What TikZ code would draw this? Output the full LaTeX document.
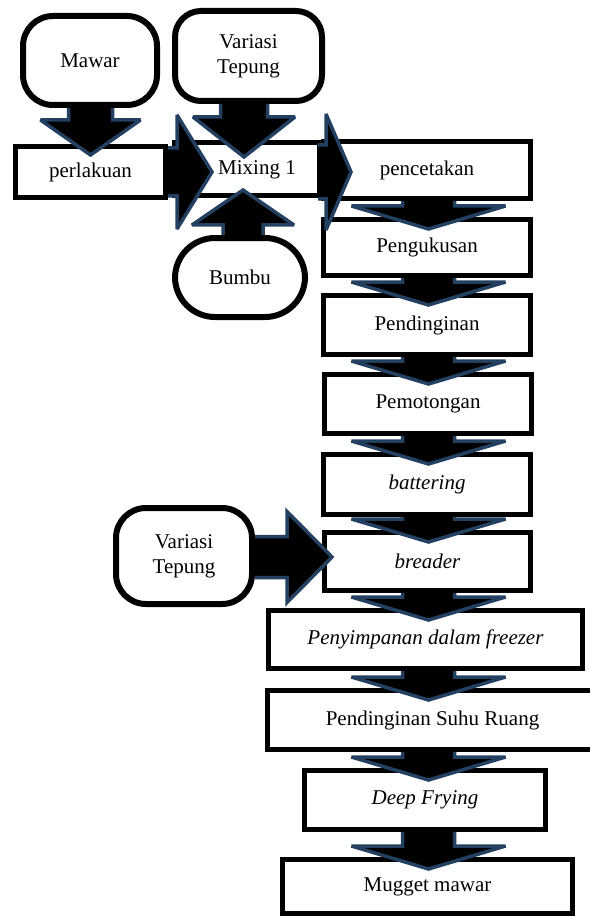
\documentclass[tikz,border=0pt]{standalone}
\usepackage{fontspec}
\setmainfont{Liberation Serif}
\usetikzlibrary{calc}
\definecolor{arrblue}{RGB}{36,64,97}
\tikzset{
  box/.style={draw=black, line width=5pt, inner sep=0pt, outer sep=2.5pt, fill=white, align=center},
  rbox/.style={draw=black, line width=6pt, inner sep=0pt, outer sep=3pt, fill=white, align=center, rounded corners=#1},
  rbox/.default=28pt,
  blkfill/.style={fill=black},
  blkline/.style={draw=arrblue, line width=3.5pt, line join=miter, miter limit=3},
}
% vertical block arrow: #1 tail, #2 tip, #3 shaft half width, #4 head half width, #5 signed head length
\newcommand\blkV[5]{%
  \fill[blkfill] let \p1=#1, \p2=#2 in (\x2-#3,\y1) -- (\x2-#3,\y2+#5) -- (\x2-#4,\y2+#5) -- (\x2,\y2) -- (\x2+#4,\y2+#5) -- (\x2+#3,\y2+#5) -- (\x2+#3,\y1) -- cycle;
  \draw[blkline] let \p1=#1, \p2=#2 in (\x2-#3,\y1) -- (\x2-#3,\y2+#5) -- (\x2-#4,\y2+#5) -- (\x2,\y2) -- (\x2+#4,\y2+#5) -- (\x2+#3,\y2+#5) -- (\x2+#3,\y1);
}
% horizontal (rightward) block arrow
\newcommand\blkH[5]{%
  \fill[blkfill] let \p1=#1, \p2=#2 in (\x1,\y2+#3) -- (\x2-#5,\y2+#3) -- (\x2-#5,\y2+#4) -- (\x2,\y2) -- (\x2-#5,\y2-#4) -- (\x2-#5,\y2-#3) -- (\x1,\y2-#3) -- cycle;
  \draw[blkline] let \p1=#1, \p2=#2 in (\x1,\y2+#3) -- (\x2-#5,\y2+#3) -- (\x2-#5,\y2+#4) -- (\x2,\y2) -- (\x2-#5,\y2-#4) -- (\x2-#5,\y2-#3) -- (\x1,\y2-#3);
}
\newcommand\colarrow[2]{\blkV{(#1.south)}{($(#2.north -| bread.north)+(1,12)$)}{26pt}{77pt}{23pt}}
\begin{document}
\begin{tikzpicture}[x=1pt, y=-1pt, font=\fontsize{21}{25}\selectfont]
\useasboundingbox (0,0) rectangle (589,917);
% left / top inputs
\node[rbox=30pt, minimum width=134pt, minimum height=89pt] (mawar) at (90,60.5) {Mawar};
\node[rbox=26pt, minimum width=147pt, minimum height=90pt] (vart) at (248.5,56) {Variasi\\Tepung};
\node[box, minimum width=150pt, minimum height=51pt] (perl) at (90.5,172) {perlakuan};
\node[box, minimum width=145pt, minimum height=53pt] (mix) at (247,169) {};
\node (mixlbl) at (257,170) {Mixing 1};
\node[rbox=40pt, minimum width=130pt, minimum height=79pt] (bumbu) at (240,277.5) {Bumbu};
\node[rbox=30pt, minimum width=136pt, minimum height=96pt] (varl) at (184,556) {Variasi\\Tepung};
% main column
\node[box, minimum width=207pt, minimum height=57pt] (penc) at (427,170) {pencetakan};
\node[box, minimum width=207pt, minimum height=56pt] (peng) at (427,247.5) {Pengukusan};
\node[box, minimum width=207pt, minimum height=59pt] (pend) at (427,325) {Pendinginan};
\node[box, minimum width=207pt, minimum height=59pt] (pemo) at (428,404) {Pemotongan};
\node[box, minimum width=207pt, minimum height=60pt] (batt) at (427,484.5) {\textit{battering}};
\node[box, minimum width=206pt, minimum height=58pt] (bread) at (427.5,561.5) {\textit{breader}};
\node[box, minimum width=314pt, minimum height=58pt] (peny) at (425.5,639.5) {\textit{Penyimpanan dalam freezer}};
\node[box, minimum width=330pt, minimum height=59pt] (psr) at (432.5,720) {Pendinginan Suhu Ruang};
\node[box, minimum width=241pt, minimum height=59pt] (dfry) at (425,800) {\textit{Deep Frying}};
\node[box, minimum width=290pt, minimum height=54pt] (mugg) at (427.5,886.5) {Mugget mawar};
% block arrows
\blkV{(mawar.south)}{($(perl.north)+(0,11)$)}{22pt}{50pt}{35pt}
\blkV{(vart.south)}{($(mix.north)+(-3,17)$)}{23.5pt}{51pt}{40pt}
\blkV{(bumbu.north)}{($(mix.south)+(-4,-8)$)}{20pt}{51pt}{-35pt}
\blkH{(perl.east)}{($(mix.west)+(40,3)$)}{24pt}{57pt}{35pt}
\blkH{($(mix.east)+(-4,0)$)}{($(penc.west)+(30,2)$)}{27pt}{58pt}{25pt}
\blkH{(varl.east)}{($(bread.west)+(10,-4.5)$)}{20.5pt}{45.5pt}{45pt}
\colarrow{penc}{peng}
\colarrow{peng}{pend}
\colarrow{pend}{pemo}
\colarrow{pemo}{batt}
\colarrow{batt}{bread}
\colarrow{bread}{peny}
\colarrow{peny}{psr}
\colarrow{psr}{dfry}
\colarrow{dfry}{mugg}
\end{tikzpicture}
\end{document}
